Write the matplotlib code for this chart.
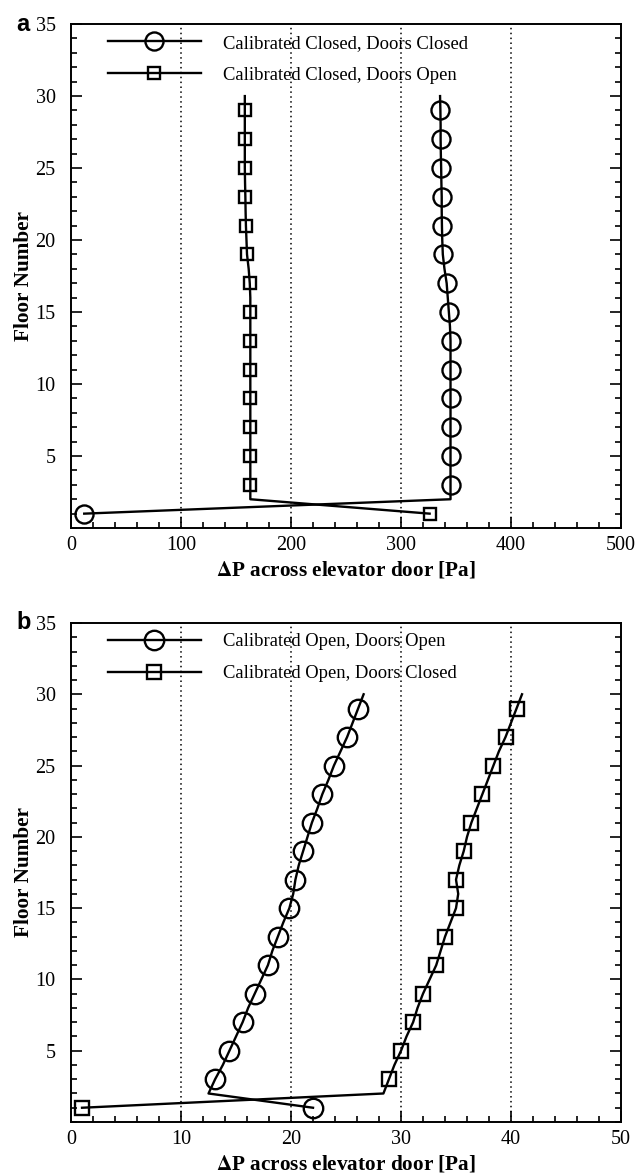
import matplotlib.pyplot as plt
from matplotlib.ticker import MultipleLocator

plt.rcParams['font.family'] = ['Liberation Serif', 'DejaVu Serif']
plt.rcParams['mathtext.fontset'] = 'stix'

floors = list(range(1, 31))

# (a) calibrated closed
dp_closed_doors_closed = [12, 345, 345, 345, 345, 345, 345, 345, 345, 345,
                          345, 345, 345, 344.5, 343.5, 342.5, 341.5, 339.5, 338, 337.5,
                          337.2, 337, 337, 336.7, 336.5, 336.2, 336, 336, 335.8, 335.5]
dp_closed_doors_open = [326, 163, 163, 163, 163, 163, 163, 163, 163, 163,
                        163, 163, 163, 163, 163, 163, 162.5, 161.5, 160, 159.5,
                        159, 158.7, 158.5, 158.2, 158, 158, 158, 158, 158, 158]

# (b) calibrated open
dp_open_doors_open = [22.0, 12.5, 13.1, 13.8, 14.4, 15.0, 15.6, 16.1, 16.7, 17.3,
                      17.9, 18.3, 18.8, 19.3, 19.85, 20.2, 20.4, 20.7, 21.1, 21.5,
                      21.9, 22.4, 22.85, 23.4, 23.9, 24.5, 25.1, 25.6, 26.1, 26.6]
dp_open_doors_closed = [1.0, 28.4, 28.9, 29.4, 30.0, 30.5, 31.1, 31.5, 32.0, 32.6,
                        33.2, 33.6, 34.0, 34.5, 35.0, 35.2, 35.0, 35.3, 35.7, 36.0,
                        36.4, 36.9, 37.4, 37.9, 38.4, 38.9, 39.5, 40.0, 40.5, 41.0]

paineis = [
    dict(letra='a', xmax=500, major=100, minor=20, ms=(13, 9),
         series=[(dp_closed_doors_closed, 'o', 'Calibrated Closed, Doors Closed'),
                 (dp_closed_doors_open, 's', 'Calibrated Closed, Doors Open')]),
    dict(letra='b', xmax=50, major=10, minor=2, ms=(14, 10),
         series=[(dp_open_doors_open, 'o', 'Calibrated Open, Doors Open'),
                 (dp_open_doors_closed, 's', 'Calibrated Open, Doors Closed')]),
]

fig = plt.figure(figsize=(6.37, 11.75), dpi=100)
posicoes = [[0.1115, 0.5506, 0.8634, 0.4289], [0.1115, 0.0451, 0.8634, 0.4247]]

for pos, p in zip(posicoes, paineis):
    ax = fig.add_axes(pos)
    for dados, marcador, rotulo in p['series']:
        ms = p['ms'][0] if marcador == 'o' else p['ms'][1]
        ax.plot(dados, floors, color='black', lw=1.7, marker=marcador, ms=ms,
                mfc='none', mec='black', mew=1.7, markevery=2, label=rotulo)

    ax.set_xlim(0, p['xmax'])
    ax.set_ylim(0, 35)
    ax.xaxis.set_major_locator(MultipleLocator(p['major']))
    ax.xaxis.set_minor_locator(MultipleLocator(p['minor']))
    ax.set_yticks([5, 10, 15, 20, 25, 30, 35])
    ax.yaxis.set_minor_locator(MultipleLocator(1))
    ax.tick_params(which='both', direction='in', top=False, right=True,
                   labelsize=14.5, width=1.2)
    ax.tick_params(which='major', length=8)
    ax.tick_params(which='minor', length=4)
    ax.tick_params(axis='x', which='major', pad=6)
    ax.tick_params(axis='y', which='major', pad=11)
    for s in ax.spines.values():
        s.set_linewidth(1.4)

    # linhas de grade verticais pontilhadas
    for xg in range(p['major'], p['xmax'], p['major']):
        ax.axvline(xg, color='black', ls=(0, (1, 2.2)), lw=1.1, zorder=0)

    ax.set_xlabel(r'$\mathbf{\Delta}$P across elevator door [Pa]', fontsize=15.3,
                  fontweight='bold', labelpad=3)
    ax.set_ylabel('Floor Number', fontsize=15.3, fontweight='bold', labelpad=1)

    ax.legend(loc='upper left', bbox_to_anchor=(0.067, 0.979), frameon=False,
              fontsize=13.4, handlelength=5.0, handletextpad=1.2, labelspacing=0.8,
              borderaxespad=0, borderpad=0)

    ax.text(-0.10, 1.0, p['letra'], transform=ax.transAxes, fontsize=17,
            fontweight='bold', family='Liberation Sans', va='center', ha='left')

fig.savefig('out.png', dpi=100)
